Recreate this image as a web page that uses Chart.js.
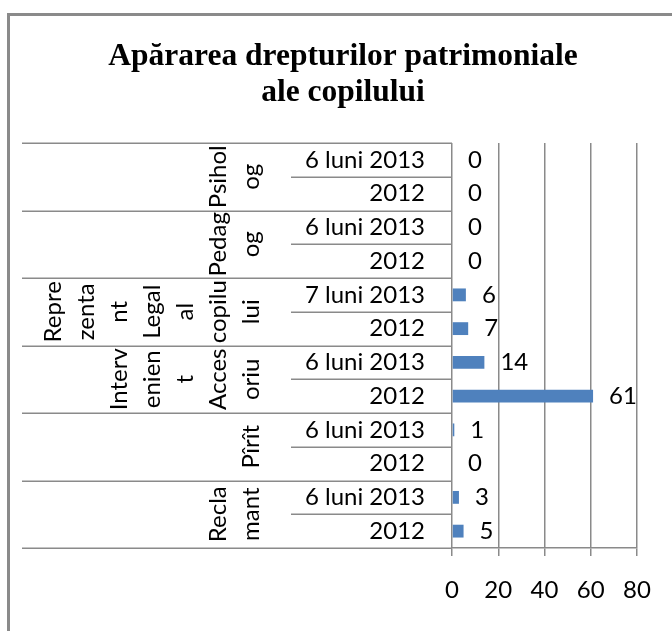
<!DOCTYPE html>
<html>
<head>
<meta charset="utf-8">
<script src="https://cdn.jsdelivr.net/npm/chart.js@4"></script>
<style>
  html, body { margin: 0; padding: 0; background: #fff; overflow: hidden; }
  #frame { position: absolute; left: 7px; top: 13px; width: 720px; height: 700px;
           border-left: 3px solid #8a8a8a; border-top: 3px solid #8a8a8a; }
  #wrap { position: absolute; left: 0; top: 0; width: 672px; height: 631px; }
</style>
</head>
<body>
<div id="frame"></div>
<div id="wrap"><canvas id="grafic"></canvas></div>
<script>
const titleLines = ['Apărarea drepturilor patrimoniale', 'ale copilului'];
// grupele (nivelul exterior), scrise pe randuri ca in Excel
const groupLines = [
  ['Psihol', 'og'],
  ['Pedag', 'og'],
  ['Repre', 'zenta', 'nt', 'Legal', 'al', 'copilu', 'lui'],
  ['Interv', 'enien', 't', 'Acces', 'oriu'],
  ['Pîrît'],
  ['Recla', 'mant']
];
const periods = ['6 luni 2013', '2012', '6 luni 2013', '2012', '7 luni 2013', '2012',
                 '6 luni 2013', '2012', '6 luni 2013', '2012', '6 luni 2013', '2012'];
const values = [0, 0, 0, 0, 6, 7, 14, 61, 1, 0, 3, 5];
const xTicks = [0, 20, 40, 60, 80];

const lineColor = '#8a8a8a';
const labelFont = '24px Lato';

const axaCategorii = {
  id: 'axaCategorii',
  afterDraw(chart) {
    const ctx = chart.ctx;
    const y = chart.scales.y;
    const x0 = chart.scales.x.getPixelForValue(0);
    ctx.save();

    // titlu
    ctx.fillStyle = '#000';
    ctx.font = 'bold 31.5px "Liberation Serif"';
    ctx.textAlign = 'center';
    ctx.textBaseline = 'alphabetic';
    ctx.fillText(titleLines[0], 343, 65);
    ctx.fillText(titleLines[1], 343, 101);

    // linii despartitoare
    ctx.strokeStyle = lineColor;
    ctx.lineWidth = 1.5;
    for (let i = 0; i <= periods.length; i++) {
      const yy = Math.round(y.getPixelForValue(i - 0.5)) + 0.25;
      const left = i % 2 === 0 ? 22 : 291;
      ctx.beginPath();
      ctx.moveTo(left, yy);
      ctx.lineTo(x0, yy);
      ctx.stroke();
    }

    // etichete perioade
    ctx.font = labelFont;
    ctx.textAlign = 'right';
    ctx.textBaseline = 'middle';
    periods.forEach((p, i) => {
      ctx.fillText(p, 425, y.getPixelForValue(i));
    });

    // etichete grupe, rotite
    ctx.textAlign = 'center';
    groupLines.forEach((lines, g) => {
      const yc = y.getPixelForValue(2 * g + 0.5);
      const n = lines.length;
      lines.forEach((t, k) => {
        const xc = 251 - (n - 1 - k) * 33;
        ctx.save();
        ctx.translate(xc, yc);
        ctx.rotate(-Math.PI / 2);
        ctx.fillText(t, 0, 0);
        ctx.restore();
      });
    });

    // valori la capatul barelor
    const x = chart.scales.x;
    ctx.textAlign = 'left';
    values.forEach((v, i) => {
      ctx.fillText(String(v), x.getPixelForValue(v) + 16, y.getPixelForValue(i));
    });
    ctx.restore();
  }
};

new Chart(document.getElementById('grafic').getContext('2d'), {
  type: 'bar',
  data: {
    labels: periods,
    datasets: [{
      data: values,
      backgroundColor: '#4f81bd',
      borderWidth: 0,
      categoryPercentage: 1,
      barPercentage: 0.38
    }]
  },
  options: {
    indexAxis: 'y',
    responsive: true,
    maintainAspectRatio: false,
    animation: false,
    layout: { padding: { left: 452, right: 35, top: 143, bottom: 0 } },
    plugins: { legend: { display: false }, title: { display: false }, tooltip: { enabled: false } },
    scales: {
      y: { display: false },
      x: {
        min: xTicks[0],
        max: xTicks[xTicks.length - 1],
        afterFit(scale) { scale.height = 83; },
        afterBuildTicks(scale) { scale.ticks = xTicks.map(v => ({ value: v })); },
        grid: { color: lineColor, lineWidth: 1.5, tickLength: 8, drawTicks: true },
        border: { color: lineColor, width: 1.5 },
        ticks: { color: '#000', font: { family: 'Lato', size: 24 }, padding: 20, maxRotation: 0 }
      }
    }
  },
  plugins: [axaCategorii]
});
</script>
</body>
</html>
